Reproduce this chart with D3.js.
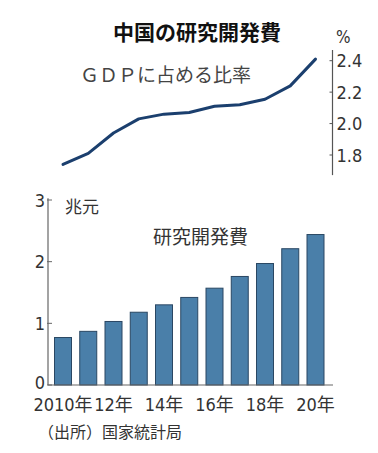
<!DOCTYPE html>
<html><head><meta charset="utf-8">
<script src="https://cdn.jsdelivr.net/npm/d3@7"></script>
<style>
body{margin:0;background:#fff;}
svg{display:block;}
.num{font-family:"Liberation Sans Narrow","DejaVu Sans Condensed","Noto Sans CJK JP",sans-serif;fill:#333;}
.jp{font-family:"Noto Sans CJK JP",sans-serif;fill:#333;}
</style></head>
<body>
<script>
const years = [2010,2011,2012,2013,2014,2015,2016,2017,2018,2019,2020];
const ratio = [1.74,1.81,1.94,2.03,2.06,2.07,2.11,2.12,2.155,2.24,2.41];
const spend = [0.77,0.87,1.03,1.18,1.30,1.42,1.57,1.76,1.97,2.21,2.44];
const xLabels = {2010:"2010年",2012:"12年",2014:"14年",2016:"16年",2018:"18年",2020:"20年"};
const ratioTicks = [1.8,2.0,2.2,2.4];
const spendTicks = [0,1,2,3];

const W=378,H=453;
const svg=d3.select("body").append("svg").attr("width",W).attr("height",H);

const x=d3.scalePoint().domain(years).range([63,315.5]);
const bw=17;

// title
svg.append("text").attr("class","jp").attr("x",197).attr("y",39.5).attr("text-anchor","middle")
  .style("font-size","21px").style("font-weight","bold").style("fill","#111").text("中国の研究開発費");

// line chart
const yL=d3.scaleLinear().domain([1.8,2.4]).range([155,60.7]);
const axL=svg.append("g").attr("transform","translate(332.5,0)");
axL.append("line").attr("x1",0).attr("x2",0).attr("y1",yL(1.672)).attr("y2",yL(2.468)).attr("stroke","#555").attr("stroke-width",1.2);
axL.selectAll("line.t").data(ratioTicks).join("line").attr("class","t")
  .attr("x1",-3).attr("x2",0).attr("y1",d=>yL(d)).attr("y2",d=>yL(d)).attr("stroke","#555");
axL.selectAll("text").data(ratioTicks).join("text").attr("class","num")
  .attr("x",4).attr("y",d=>yL(d)+6.5).style("font-size","18px").text(d=>d.toFixed(1));
svg.append("text").attr("class","num").attr("x",336).attr("y",43).style("font-size","17px").text("%");
svg.append("text").attr("class","jp").attr("x",80).attr("y",82).style("font-size","19px").style("fill","#444")
  .text("ＧＤＰに占める比率");
svg.append("path").datum(years.map((y,i)=>[y,ratio[i]]))
  .attr("fill","none").attr("stroke","#1b3f6e").attr("stroke-width",3).attr("stroke-linejoin","round").attr("stroke-linecap","round")
  .attr("d",d3.line().x(d=>x(d[0])).y(d=>yL(d[1])));

// bar chart
const yB=d3.scaleLinear().domain([0,3]).range([385,200]);
svg.selectAll("rect.bar").data(years).join("rect").attr("class","bar")
  .attr("x",d=>x(d)-bw/2).attr("width",bw)
  .attr("y",(d,i)=>yB(spend[i])).attr("height",(d,i)=>yB(0)-yB(spend[i]))
  .attr("fill","#4a7fa9").attr("stroke","#2a4763").attr("stroke-width",1);
const axB=svg.append("g").attr("transform","translate(48,0)");
axB.append("line").attr("x1",0).attr("x2",0).attr("y1",yB(0)).attr("y2",yB(3.03)).attr("stroke","#666").attr("stroke-width",1.2);
axB.selectAll("line.t").data(spendTicks).join("line").attr("class","t")
  .attr("x1",-1).attr("x2",4).attr("y1",d=>yB(d)).attr("y2",d=>yB(d)).attr("stroke","#666");
axB.selectAll("text").data(spendTicks).join("text").attr("class","num")
  .attr("x",-3).attr("y",d=>yB(d)+(d===0?4:6.5)).attr("text-anchor","end").style("font-size","18px").text(d=>d);
svg.append("line").attr("x1",48).attr("x2",333).attr("y1",yB(0)).attr("y2",yB(0)).attr("stroke","#666").attr("stroke-width",1.2);
svg.selectAll("text.xl").data(years.filter(y=>xLabels[y])).join("text").attr("class","xl num")
  .attr("x",d=>x(d)).attr("y",411).attr("text-anchor","middle").style("font-size","18px").text(d=>xLabels[d]);
svg.append("text").attr("class","jp").attr("x",65).attr("y",213).style("font-size","17px").text("兆元");
svg.append("text").attr("class","jp").attr("x",153).attr("y",243.5).style("font-size","19px").text("研究開発費");
svg.append("text").attr("class","jp").attr("x",38).attr("y",438).style("font-size","16px").text("（出所）国家統計局");
</script>
</body></html>
